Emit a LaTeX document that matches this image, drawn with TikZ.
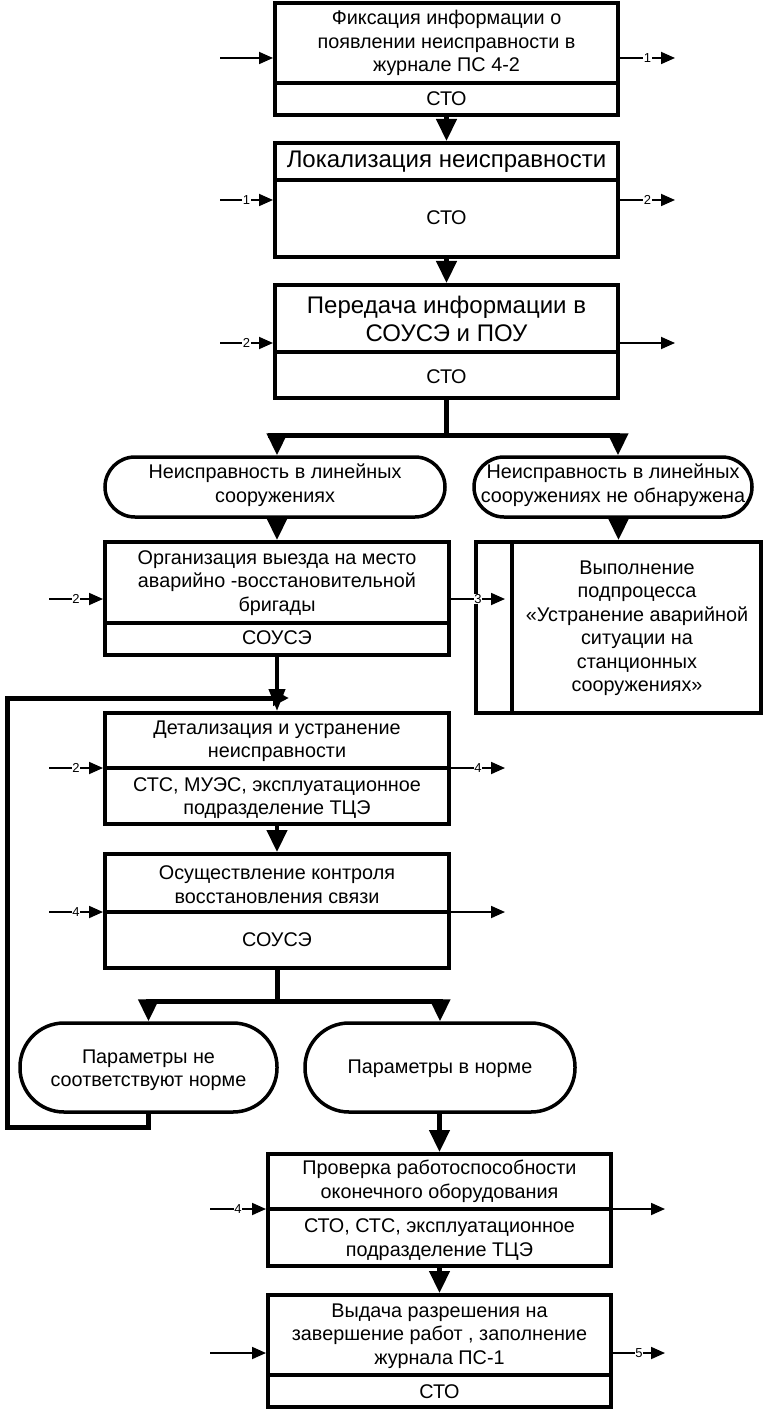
\documentclass[tikz,border=0pt]{standalone}
\usepackage{fontspec}
\setmainfont{Liberation Sans}
\usetikzlibrary{arrows.meta,calc}
\begin{document}
\begin{tikzpicture}[x=1pt,y=-1pt,
  pbox/.style={draw, line width=4pt, inner sep=0pt, minimum width=#1},
  pbox/.default=343pt,
  oval/.style={draw, line width=3.5pt, inner sep=0pt},
  divl/.style={line width=3.2pt},
  txt/.style={align=center, inner sep=0pt, font=\fontsize{19.8}{23.5}\selectfont},
  bigtxt/.style={align=center, inner sep=0pt, font=\fontsize{24}{28}\selectfont},
  io/.style={line width=1.8pt, -{Triangle[length=14pt,width=12pt]}},
  num/.style={fill=white, inner sep=0.5pt, font=\fontsize{13}{13}\selectfont},
  flow/.style={line width=4.5pt, -{Triangle[length=22pt,width=20pt]}},
  thickl/.style={line width=5pt},
]
\useasboundingbox (0,0) rectangle (764,1412);

% ---------- Box 1
\node[pbox, minimum height=112pt] (b1) at (446.5,59) {};
\draw[divl] (b1.west |- 0,83) -- (b1.east |- 0,83);
\node[txt] (b1t) at (446.5,43) {Фиксация информации о\\появлении неисправности в\\журнале ПС 4-2};
\node[txt] (b1r) at (446.5,99) {СТО};
\coordinate (i1) at (220,58); \coordinate (o1) at (675,58);
\draw[io] (i1) -- (i1 -| b1.west);
\draw[io] (b1.east |- o1) -- node[num]{1} (o1);

% ---------- Box 2
\node[pbox, minimum height=114pt] (b2) at (446.5,200) {};
\draw[divl] (b2.west |- 0,180) -- (b2.east |- 0,180);
\node[bigtxt] (b2t) at (446.5,162) {Локализация неисправности};
\node[txt] (b2r) at (446.5,218) {СТО};
\coordinate (i2) at (220,200); \coordinate (o2) at (675,200);
\draw[io] (i2) -- node[num]{1} (i2 -| b2.west);
\draw[io] (b2.east |- o2) -- node[num]{2} (o2);
\draw[flow] (b1.south) -- (b2.north);

% ---------- Box 3
\node[pbox, minimum height=113pt] (b3) at (446.5,341.5) {};
\draw[divl] (b3.west |- 0,352) -- (b3.east |- 0,352);
\node[bigtxt] (b3t) at (446.5,319) {Передача информации в\\СОУСЭ и ПОУ};
\node[txt] (b3r) at (446.5,377) {СТО};
\coordinate (i3) at (220,343); \coordinate (o3) at (675,343);
\draw[io] (i3) -- node[num]{2} (i3 -| b3.west);
\draw[io] (b3.east |- o3) -- (o3);
\draw[flow] (b2.south) -- (b3.north);

% ---------- Branch 1
\coordinate (j1) at (446.5,435);
\coordinate (j1l) at (268,435); \coordinate (j1r) at (620,435);
\draw[thickl] (b3.south) -- (j1);
\draw[thickl] (j1l) -- (j1r);

\node[oval, minimum width=340pt, minimum height=60pt, rounded corners=30pt] (ov1) at (275,487) {};
\node[txt] (ov1t) at (275,485) {Неисправность в линейных\\сооружениях};
\node[oval, minimum width=278pt, minimum height=60pt, rounded corners=30pt] (ov2) at (613,487) {};
\node[txt] (ov2t) at (613,485) {Неисправность в линейных\\сооружениях не обнаружена};
\coordinate (a1) at (277,435); \coordinate (a2) at (618,435);
\draw[flow] (a1) -- (a1 |- ov1.north);
\draw[flow] (a2) -- (a2 |- ov2.north);

% ---------- Box 4
\node[pbox=344pt, minimum height=113pt] (b4) at (277,598.5) {};
\draw[divl] (b4.west |- 0,623) -- (b4.east |- 0,623);
\node[txt] (b4t) at (277,583) {Организация выезда на место\\аварийно -восстановительной\\бригады};
\node[txt] (b4r) at (277,638) {СОУСЭ};
\draw[flow] (ov1.south -| b4.north) -- (b4.north);

% ---------- Box 5 (subprocess)
\node[pbox=285pt, minimum height=171pt] (b5) at (618.5,627.5) {};
\draw[divl] (512,0 |- b5.north) -- (512,0 |- b5.south);
\node[txt] (b5t) at (637,628) {Выполнение\\подпроцесса\\«Устранение аварийной\\ситуации на\\станционных\\сооружениях»};
\draw[flow] (ov2.south -| b5.north) -- (b5.north);

\coordinate (i4) at (49,599); \coordinate (o4) at (505,599);
\draw[io] (i4) -- node[num]{2} (i4 -| b4.west);
\draw[io] (b4.east |- o4) -- node[num]{3} (o4);

% ---------- Box 6
\node[pbox=344pt, minimum height=111pt] (b6) at (277,768.5) {};
\draw[divl] (b6.west |- 0,768) -- (b6.east |- 0,768);
\node[txt] (b6t) at (277,741) {Детализация и устранение\\неисправности};
\node[txt] (b6r) at (277,798) {СТС, МУЭС, эксплуатационное\\подразделение ТЦЭ};
\coordinate (i6) at (49,768); \coordinate (o6) at (505,768);
\draw[io] (i6) -- node[num]{2} (i6 -| b6.west);
\draw[io] (b6.east |- o6) -- node[num]{4} (o6);
\draw[line width=4pt, -{Triangle[length=22pt,width=16pt]}] (b4.south) -- (b6.north);

% ---------- Box 7
\node[pbox=344pt, minimum height=114pt] (b7) at (277,911) {};
\draw[divl] (b7.west |- 0,912) -- (b7.east |- 0,912);
\node[txt] (b7t) at (277,884.5) {Осуществление контроля\\восстановления связи};
\node[txt] (b7r) at (277,940) {СОУСЭ};
\coordinate (i7) at (49,912); \coordinate (o7) at (505,912);
\draw[io] (i7) -- node[num]{4} (i7 -| b7.west);
\draw[io] (b7.east |- o7) -- (o7);
\draw[flow] (b6.south) -- (b7.north);

% ---------- Branch 2
\coordinate (j2) at (277,1001);
\coordinate (j2l) at (146,1001); \coordinate (j2r) at (443,1001);
\draw[thickl] (b7.south) -- (j2);
\draw[thickl] (j2l) -- (j2r);
\node[oval, minimum width=257pt, minimum height=89pt, rounded corners=44pt] (ov3) at (148.5,1067.5) {};
\node[txt] (ov3t) at (148.5,1070) {Параметры не\\соответствуют норме};
\node[oval, minimum width=270pt, minimum height=89pt, rounded corners=44pt] (ov4) at (440,1067.5) {};
\node[txt] (ov4t) at (440,1069) {Параметры в норме};
\draw[flow] (ov3.north |- j2) -- (ov3.north);
\draw[flow] (ov4.north |- j2) -- (ov4.north);

% ---------- Feedback loop
\coordinate (fb1) at (7,1127); \coordinate (fb2) at (7,698); \coordinate (fbend) at (289,698);
\draw[thickl, line join=miter, -{Triangle[length=16pt,width=15pt]}] (ov3.south) -- (ov3.south |- fb1) -- (fb1) -- (fb2) -- (fbend);

% ---------- Box 8
\node[pbox, minimum height=112pt] (b8) at (439.5,1210) {};
\draw[divl] (b8.west |- 0,1209) -- (b8.east |- 0,1209);
\node[txt] (b8t) at (439.5,1181.5) {Проверка работоспособности\\оконечного оборудования};
\node[txt] (b8r) at (439.5,1239.5) {СТО, СТС, эксплуатационное\\подразделение ТЦЭ};
\coordinate (i8) at (210,1209); \coordinate (o8) at (665,1209);
\draw[io] (i8) -- node[num]{4} (i8 -| b8.west);
\draw[io] (b8.east |- o8) -- (o8);
\draw[flow] (ov4.south -| b8.north) -- (b8.north);

% ---------- Box 9
\node[pbox, minimum height=112pt] (b9) at (439.5,1351) {};
\draw[divl] (b9.west |- 0,1375) -- (b9.east |- 0,1375);
\node[txt] (b9t) at (439.5,1336) {Выдача разрешения на\\завершение работ , заполнение\\журнала ПС-1};
\node[txt] (b9r) at (439.5,1392) {СТО};
\coordinate (i9) at (210,1353); \coordinate (o9) at (665,1353);
\draw[io] (i9) -- (i9 -| b9.west);
\draw[io] (b9.east |- o9) -- node[num]{5} (o9);
\draw[flow] (b8.south) -- (b9.north);
\end{tikzpicture}
\end{document}
